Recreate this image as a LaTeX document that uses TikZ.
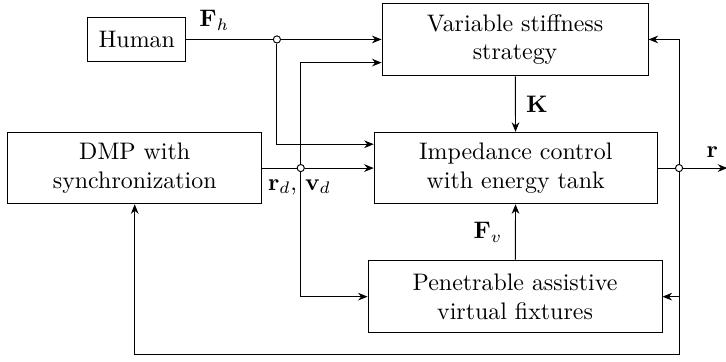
\documentclass[tikz,border=0pt]{standalone}
\usepackage{amsmath,amssymb}
\usepackage{tikz}
\usetikzlibrary{arrows.meta}

\begin{document}
\begin{tikzpicture}[>={Stealth[length=4pt,width=3.2pt]},
  block/.style={draw, align=center, minimum height=1.05cm},
  junc/.style={circle, draw, fill=white, inner sep=0pt, minimum size=3pt}]
\useasboundingbox (0,0) rectangle (10.67,5.31);
% blocks
\node[block, minimum width=1.44cm, minimum height=0.65cm] (human) at (2.01,4.73) {Human};
\node[block, minimum width=3.91cm] (vss) at (7.57,4.73) {Variable stiffness\\strategy};
\node[block, minimum width=3.73cm] (dmp) at (1.98,2.84) {DMP with\\synchronization};
\node[block, minimum width=4.16cm] (imp) at (7.58,2.84) {Impedance control\\with energy tank};
\node[block, minimum width=4.32cm] (pavf) at (7.57,0.95) {Penetrable assistive\\virtual fixtures};
% branch points
\node[junc] (jf) at (4.07,4.73) {};
\node[junc] (jr) at (4.42,2.84) {};
\node[junc] (jo) at (9.98,2.84) {};
\coordinate (out) at (10.69,2.84);
\coordinate (fb) at (9.98,0.10);
% signals
\draw (human) -- (jf);
\draw[->] (jf) -- (vss);
\draw[->] (jf) |- ([yshift=0.35cm]imp.west);
\draw (dmp) -- (jr);
\draw[->] (jr) -- (imp);
\draw[->] (jr) |- ([yshift=-0.34cm]vss.west);
\draw[->] (jr) |- (pavf);
\draw[->] (vss) -- (imp);
\draw[->] (pavf) -- (imp);
\draw (imp) -- (jo);
\draw[->] (jo) -- (out);
\draw[->] (jo) |- (vss);
\draw[->] (jo) |- (pavf);
\draw[->] (jo) -- (fb) -| (dmp);
% labels
\node (lfh) at (3.15,5.01) {$\mathbf{F}_h$};
\node (lk) at (7.89,3.78) {$\mathbf{K}$};
\node (lfv) at (7.17,1.90) {$\mathbf{F}_v$};
\node (lr) at (10.47,3.07) {$\mathbf{r}$};
\node (lrv) at (4.40,2.56) {$\mathbf{r}_d$, $\mathbf{v}_d$};
\end{tikzpicture}
\end{document}
